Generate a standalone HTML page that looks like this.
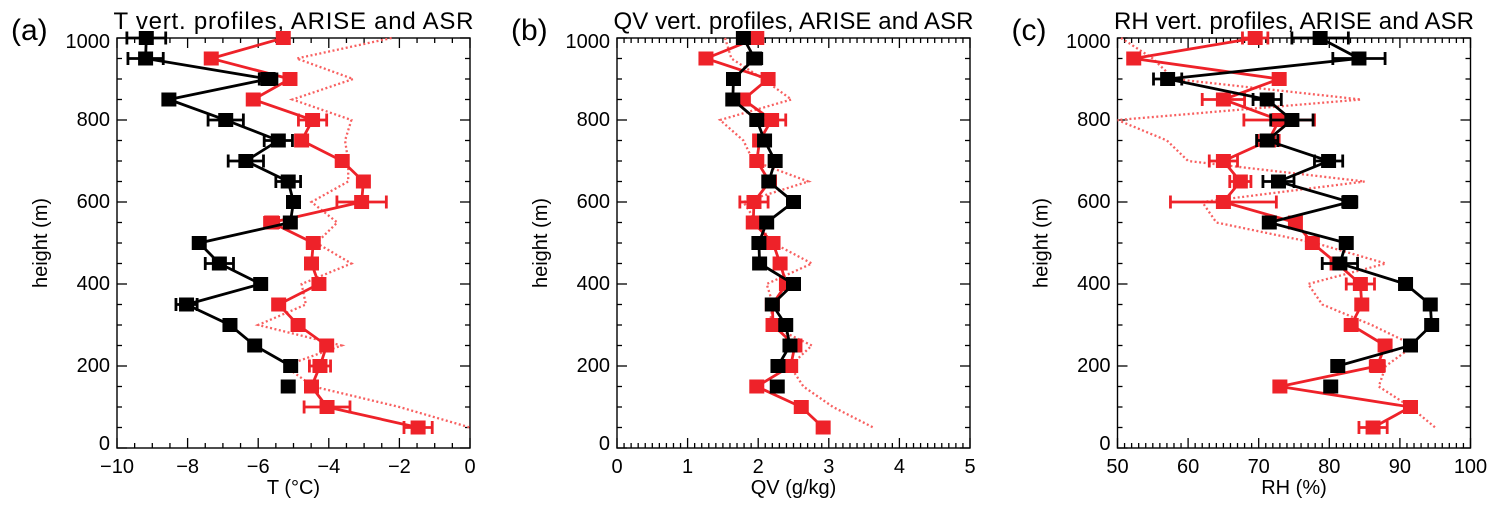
<!DOCTYPE html>
<html><head><meta charset="utf-8"><style>
html,body{margin:0;padding:0;background:#fff;}
svg{display:block;font-family:"Liberation Sans",sans-serif;}
</style></head><body>
<svg id="fig" width="1500" height="509" viewBox="0 0 1500 509" xmlns="http://www.w3.org/2000/svg"></svg>
<script>
const heights = [1000,950,900,850,800,750,700,650,600,550,500,450,400,350,300,250,200,150,100,50];
// Panel (a) T
const tAriseBlack = [-9.17,-9.19,-5.72,-8.53,-6.92,-5.43,-6.35,-5.15,-5.0,-5.09,-7.67,-7.1,-5.93,-8.03,-6.8,-6.1,-5.08,-5.15];
const tAriseBlackErr = [0.55,0.5,0.25,0.1,0.5,0.4,0.5,0.35,0.15,0.1,0.1,0.4,0.15,0.3,0.1,0.1,0.1,0.1];
const tAsrRed = [-5.29,-7.33,-5.1,-6.14,-4.46,-4.77,-3.62,-3.02,-3.07,-5.62,-4.44,-4.49,-4.28,-5.42,-4.87,-4.06,-4.25,-4.49,-4.05,-1.47];
const tAsrRedErr = [0.1,0.1,0.1,0.1,0.4,0.1,0.1,0.1,0.7,0.2,0.1,0.1,0.1,0.1,0.1,0.1,0.3,0.1,0.65,0.4];
const tDotted = [-2.22,-4.91,-3.31,-5.03,-3.36,-3.54,-3.45,-3.45,-4.49,-3.76,-4.35,-3.36,-4.77,-4.65,-6.0,-3.64,-5.25,-4.44,-2.0,0.0];
// Panel (b) QV
const qBlack = [1.79,1.95,1.65,1.64,1.98,2.09,2.24,2.15,2.5,2.12,2.01,2.02,2.5,2.2,2.39,2.45,2.28,2.27];
const qBlackErr = [0.05,0.1,0.05,0.05,0.05,0.05,0.05,0.05,0.05,0.05,0.05,0.05,0.05,0.05,0.05,0.05,0.05,0.05];
const qRed = [1.98,1.26,2.14,1.79,2.19,2.02,1.98,2.16,1.94,1.93,2.21,2.31,2.4,2.2,2.21,2.52,2.46,1.98,2.61,2.92];
const qRedErr = [0.05,0.05,0.05,0.05,0.2,0.05,0.05,0.05,0.2,0.05,0.05,0.05,0.05,0.05,0.05,0.05,0.05,0.05,0.05,0.05];
const qDotted = [1.53,1.62,2.07,2.47,1.46,1.79,1.93,2.71,1.79,1.98,2.21,2.76,2.12,2.21,2.16,2.76,2.45,2.64,3.06,3.63];
// Panel (c) RH
const rhBlack = [78.7,84.2,57.1,71.2,74.7,71.2,79.9,72.8,82.9,71.5,82.4,81.5,90.8,94.3,94.5,91.5,81.2,80.2];
const rhBlackErr = [4,3.7,2,2,3,1.5,2,2.2,1,0.5,0.5,2.5,0.5,0.5,0.5,0.5,0.5,0.5];
const rhRed = [69.5,52.3,72.9,65.0,72.9,71.4,65.0,67.4,65.0,75.2,77.6,81.1,84.4,84.6,83.1,87.9,86.8,73.0,91.5,86.2];
const rhRedErr = [1.8,0.5,0.5,3,5,1.5,2,1.5,7.5,0.5,0.5,0.5,2,0.5,0.5,0.5,1,0.5,0.5,2];
const rhDotted = [50.5,55,58,84.5,50,57,60,85,62,64,78,88,77,79,86,92,88,87,91.5,95];

const NS="http://www.w3.org/2000/svg";
const svg=document.getElementById('fig');
function mk(tag,attrs,parent){const e=document.createElementNS(NS,tag);for(const k in attrs)e.setAttribute(k,attrs[k]);(parent||svg).appendChild(e);return e;}
const RED="#ee2229", DOT="#f86060";
const Y0=448, Y1=38;
function yS(v){return Y0-(v/1000)*(Y0-Y1);}

function panel(cfg){
  const g=mk('g',{});
  
  
  const L=cfg.left,R=cfg.left+353;
  const xS=v=>L+(v-cfg.xmin)/(cfg.xmax-cfg.xmin)*(R-L);
  const fr=mk('rect',{x:L,y:Y1,width:R-L,height:Y0-Y1,fill:'none',stroke:'#000','stroke-width':1.4},g);
  
  const nMin=Math.round((cfg.xmax-cfg.xmin)/cfg.minor);
  for(let i=0;i<=nMin;i++){
    const v=cfg.xmin+i*cfg.minor, x=xS(v);
    const major=Math.abs(((v-cfg.xmin)/cfg.major)-Math.round((v-cfg.xmin)/cfg.major))<1e-6;
    const len=major?10:5;
    mk('line',{x1:x,y1:Y0,x2:x,y2:Y0-len,stroke:'#000','stroke-width':1.3},g);
    mk('line',{x1:x,y1:Y1,x2:x,y2:Y1+len,stroke:'#000','stroke-width':1.3},g);
  }
  cfg.xticks.forEach((t,i)=>{
    const tx=mk('text',{x:xS(t),y:473,'font-size':20,'text-anchor':'middle'},g);
    tx.textContent=cfg.xtickLabels[i];
    
  });
  for(let v=0;v<=1000;v+=50){
    const y=yS(v),len=(v%200===0)?10:5;
    mk('line',{x1:L,y1:y,x2:L+len,y2:y,stroke:'#000','stroke-width':1.3},g);
    mk('line',{x1:R,y1:y,x2:R-len,y2:y,stroke:'#000','stroke-width':1.3},g);
  }
  [0,200,400,600,800,1000].forEach(v=>{
    let y=yS(v)+6; if(v===0)y-=4; if(v===1000)y+=4;
    const tx=mk('text',{x:L-7,y:y,'font-size':20,'text-anchor':'end'},g);
    tx.textContent=String(v);
    
  });
  const yt=mk('text',{x:0,y:0,'font-size':20,'text-anchor':'middle',transform:`translate(${L-70},243) rotate(-90)`},g);
  yt.textContent='height (m)';
  const xt=mk('text',{x:(L+R)/2,y:494,'font-size':20,'text-anchor':'middle'},g);
  xt.textContent=cfg.xtitle;
  const ti=mk('text',{x:(L+R)/2,y:29,'font-size':24,'text-anchor':'middle',textLength:360,lengthAdjust:'spacing'},g);
  ti.textContent=cfg.title;
  const lb=mk('text',{x:L-106,y:40,'font-size':30},g);
  lb.textContent=cfg.label;
  const cid='clip'+cfg.label.replace(/\W/g,'');
  const cp=mk('clipPath',{id:cid},g);mk('rect',{x:L,y:Y1-8,width:R-L,height:Y0-Y1+16},cp);
  const pg=mk('g',{'clip-path':`url(#${cid})`},g);
  const dp=mk('polyline',{points:cfg.dotted.map((v,i)=>xS(v)+','+yS(heights[i])).join(' '),fill:'none',stroke:DOT,'stroke-width':2.3,'stroke-dasharray':'2,2.5'},pg);
  
  function series(vals,errs,col,nm,brk){
    const segs=[];let cur=[];
    vals.forEach((v,i)=>{cur.push(xS(v)+','+yS(heights[i])); if(brk!==null&&i===brk){segs.push(cur);cur=[];}});
    segs.push(cur);
    segs.forEach(s=>{
      const pl=mk('polyline',{points:s.join(' '),fill:'none',stroke:col,'stroke-width':2.8},pg);
      
    });
    vals.forEach((v,i)=>{
      const x=xS(v),y=yS(heights[i]),e=errs[i];
      const x1=xS(v-e),x2=xS(v+e);
      mk('line',{x1:x1,y1:y,x2:x2,y2:y,stroke:col,'stroke-width':2.8},pg);
      mk('line',{x1:x1,y1:y-6.5,x2:x1,y2:y+6.5,stroke:col,'stroke-width':2.8},pg);
      mk('line',{x1:x2,y1:y-6.5,x2:x2,y2:y+6.5,stroke:col,'stroke-width':2.8},pg);
      const m=mk('rect',{x:x-7.5,y:y-7,width:15,height:14,fill:col},pg);
      
    });
  }
  series(cfg.red,cfg.redErr,RED,'red-profile',null);
  series(cfg.black,cfg.blackErr,'#000','black-profile',16);
}
panel({name:'panel-a-temperature',left:117,xmin:-10,xmax:0,major:2,minor:0.5,xticks:[-10,-8,-6,-4,-2,0],xtickLabels:['\u221210','\u22128','\u22126','\u22124','\u22122','0'],xtitle:'T (\u00B0C)',title:'T vert. profiles, ARISE and ASR',label:'(a)',black:tAriseBlack,blackErr:tAriseBlackErr,red:tAsrRed,redErr:tAsrRedErr,dotted:tDotted});
panel({name:'panel-b-qv',left:617,xmin:0,xmax:5,major:1,minor:0.1,xticks:[0,1,2,3,4,5],xtickLabels:['0','1','2','3','4','5'],xtitle:'QV (g/kg)',title:'QV vert. profiles, ARISE and ASR',label:'(b)',black:qBlack,blackErr:qBlackErr,red:qRed,redErr:qRedErr,dotted:qDotted});
panel({name:'panel-c-rh',left:1117.5,xmin:50,xmax:100,major:10,minor:1,xticks:[50,60,70,80,90,100],xtickLabels:['50','60','70','80','90','100'],xtitle:'RH (%)',title:'RH vert. profiles, ARISE and ASR',label:'(c)',black:rhBlack,blackErr:rhBlackErr,red:rhRed,redErr:rhRedErr,dotted:rhDotted});
</script>
</body></html>
